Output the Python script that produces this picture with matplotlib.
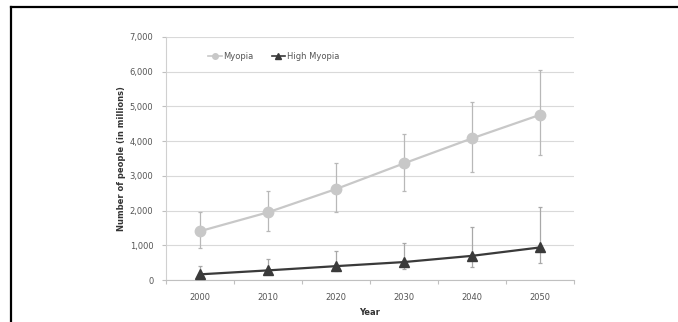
import numpy as np
import matplotlib.pyplot as plt
from matplotlib.lines import Line2D

# values (millions of people)
years = ['2000', '2010', '2020', '2030', '2040', '2050']
myopia = [1406, 1950, 2620, 3360, 4080, 4758]
myopia_low = [930, 1420, 1970, 2570, 3120, 3600]
myopia_high = [1950, 2550, 3380, 4210, 5130, 6050]
high_myopia = [163, 277, 399, 517, 696, 938]
high_low = [100, 180, 250, 310, 380, 490]
high_high = [400, 600, 830, 1080, 1530, 2100]

x = np.arange(len(years))

fig = plt.figure(figsize=(6.78, 3.22), dpi=100)
ax = fig.add_axes([166 / 678, 1 - 280 / 322, (574 - 166) / 678, (280 - 37) / 322])

myo = np.array(myopia)
hm = np.array(high_myopia)
ax.errorbar(x, myo, yerr=[myo - np.array(myopia_low), np.array(myopia_high) - myo],
            fmt='none', ecolor='#b8b8b8', elinewidth=0.9, capsize=1.5, capthick=0.9, zorder=2)
ax.errorbar(x, hm, yerr=[hm - np.array(high_low), np.array(high_high) - hm],
            fmt='none', ecolor='#a8a8a8', elinewidth=0.9, capsize=1.5, capthick=0.9, zorder=2)
ax.plot(x, myo, color='#c8c8c8', lw=1.6, marker='o', ms=7.5, mec='#c8c8c8', mfc='#c8c8c8',
        label='Myopia', zorder=3)
ax.plot(x, hm, color='#3a3a3a', lw=1.6, marker='^', ms=7, mec='#3a3a3a', mfc='#3a3a3a',
        label='High Myopia', zorder=4)

ax.set_xlim(-0.5, len(years) - 0.5)
ax.set_ylim(0, 7000)
ax.set_yticks(range(0, 7001, 1000))
ax.set_yticklabels([f'{v:,}' for v in range(0, 7001, 1000)])
ax.set_xticks(x)
ax.set_xticklabels(years)
ax.set_xticks(np.arange(-0.5, len(years), 1), minor=True)
ax.tick_params(axis='x', which='major', length=0, pad=9, labelsize=6, labelcolor='#555555')
ax.tick_params(axis='x', which='minor', length=3, color='#c0c0c0', width=0.8)
ax.tick_params(axis='y', length=3, color='#c0c0c0', width=0.8, labelsize=6, labelcolor='#555555', pad=6)
ax.grid(axis='y', color='#d9d9d9', lw=0.8, zorder=0)
ax.set_axisbelow(True)
for s in ['top', 'right']:
    ax.spines[s].set_visible(False)
ax.spines['left'].set_color('#d0d0d0')
ax.spines['bottom'].set_color('#c0c0c0')
ax.spines['left'].set_linewidth(0.8)
ax.spines['bottom'].set_linewidth(0.8)

ax.set_ylabel('Number of people (in millions)', fontsize=6, fontweight='bold', color='#333333', labelpad=3)
ax.set_xlabel('Year', fontsize=6, fontweight='bold', color='#333333', labelpad=5)

handles = [Line2D([], [], color='#c8c8c8', lw=1.2, marker='o', ms=4),
           Line2D([], [], color='#3a3a3a', lw=1.2, marker='^', ms=4)]
ax.legend(handles, ['Myopia', 'High Myopia'], loc='upper left', bbox_to_anchor=(0.085, 0.97),
          ncol=2, frameon=False, fontsize=6, handlelength=1.6, handletextpad=0.2,
          columnspacing=2.2, labelcolor='#555555')

# black frame on top and left side of the picture
fig.add_artist(Line2D([11 / 678, 1], [1 - 7 / 322, 1 - 7 / 322], transform=fig.transFigure,
                      color='black', lw=1.6))
fig.add_artist(Line2D([11 / 678, 11 / 678], [0, 1 - 7 / 322], transform=fig.transFigure,
                      color='black', lw=1.6))

fig.savefig('out.png', dpi=100)
